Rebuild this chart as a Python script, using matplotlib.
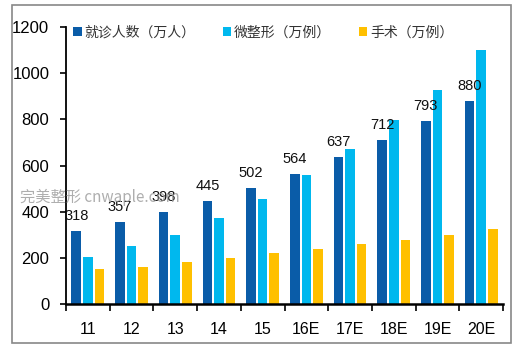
import matplotlib
matplotlib.use("Agg")
import matplotlib.pyplot as plt
from matplotlib.patches import Rectangle
import numpy as np

plt.rcParams['font.family'] = ['Liberation Sans', 'Noto Sans CJK SC', 'DejaVu Sans']

categories = ["11", "12", "13", "14", "15", "16E", "17E", "18E", "19E", "20E"]
visits = [318, 357, 398, 445, 502, 564, 637, 712, 793, 880]
micro = [205, 252, 299, 371, 455, 560, 670, 797, 929, 1100]
surgery = [151, 160, 183, 199, 222, 239, 261, 278, 300, 325]
series_names = ["就诊人数（万人）", "微整形（万例）", "手术（万例）"]
colors = ["#0A5CA8", "#00B8EE", "#FFC000"]

fig = plt.figure(figsize=(5.22, 3.49), dpi=100)
ax = fig.add_axes([66/522, 1-304/349, (503-66)/522, (304-27)/349])

x = np.arange(len(categories))
w = 0.22
step = 0.265
for k, (vals, c, name) in enumerate(zip([visits, micro, surgery], colors, series_names)):
    ax.bar(x + (k-1)*step, vals, width=w, color=c, label=name, zorder=2)

for xi, v in zip(x, visits):
    ax.text(xi - step, v + 35, str(v), ha='center', va='bottom', fontsize=10.5, color='#111111')

ax.set_xlim(-0.5, len(categories)-0.5)
ax.set_ylim(0, 1200)
ax.set_yticks(range(0, 1201, 200))
ax.tick_params(axis='y', direction='out', length=4, width=1.2, labelsize=12, pad=8)
ax.set_xticks(x)
ax.set_xticklabels(categories, fontsize=11.5)
ax.tick_params(axis='x', which='major', length=0, pad=13)
ax.set_xticks(np.arange(-0.5, len(categories), 1.0), minor=True)
ax.tick_params(axis='x', which='minor', direction='out', length=5, width=1.2)
for s in ['top', 'right']:
    ax.spines[s].set_visible(False)
ax.spines['left'].set_linewidth(1.3)
ax.spines['bottom'].set_linewidth(1.8)

leg = ax.legend(loc='upper left', bbox_to_anchor=(-0.012, 1.05), ncol=3, frameon=False,
                handlelength=0.6, handleheight=0.6, handletextpad=0.2,
                columnspacing=2.0, prop={'family': ['Noto Sans CJK SC'], 'size': 10})
for t in leg.get_texts():
    t.set_color('#333333')

fig.text(20/522, 1-197/349, "完美整形 cnwaple.com", fontsize=11, color='#9a9a9a', alpha=0.8,
         va='center', ha='left', family=['Noto Sans CJK SC', 'DejaVu Sans'])

fig.patches.append(Rectangle((12/522, 1-343/349), (511-12)/522, (343-5)/349,
                             transform=fig.transFigure, fill=False, edgecolor='#888888', linewidth=1.2))

fig.savefig("out.png", dpi=100)
